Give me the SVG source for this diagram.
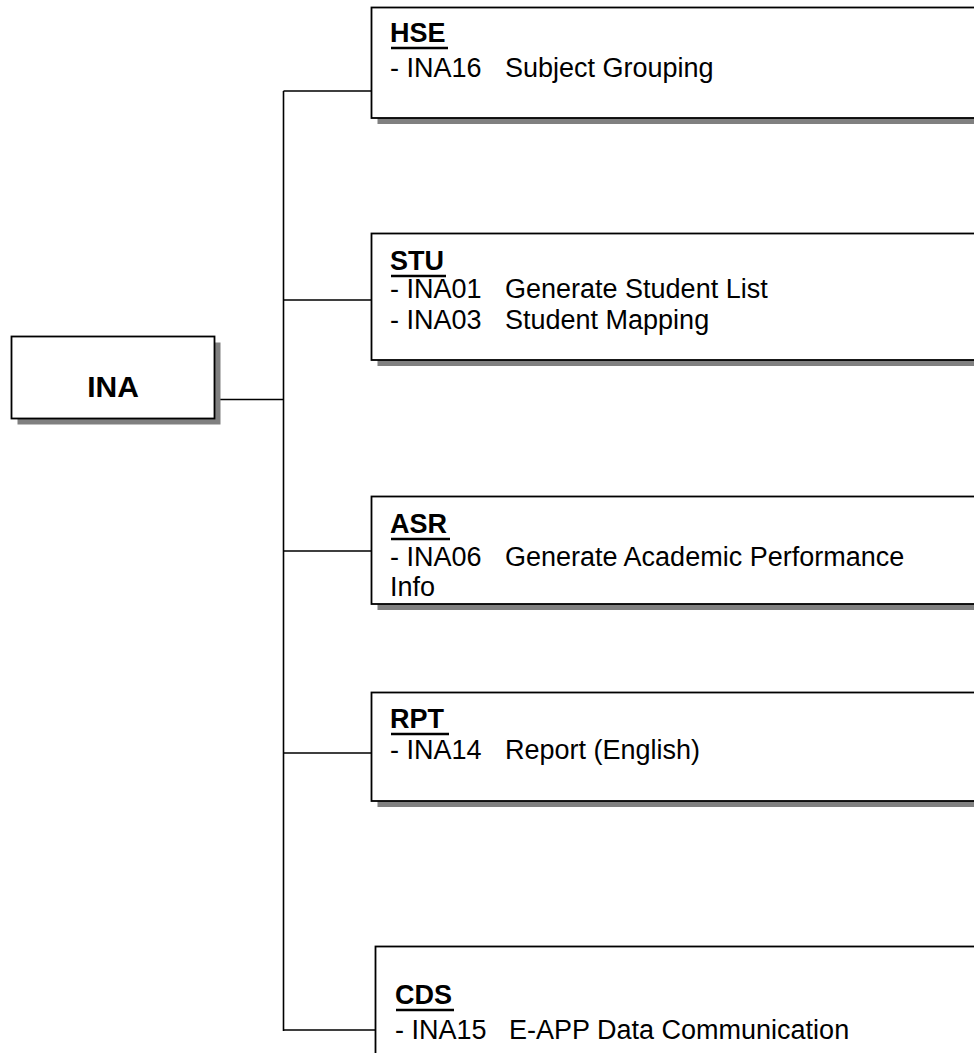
<svg xmlns="http://www.w3.org/2000/svg" width="974" height="1053" viewBox="0 0 974 1053">
<style>
.bg{fill:#ffffff}
.box{fill:#ffffff;stroke:#000000;stroke-width:1.8}
.sh{fill:#808080}
.t{font-family:"Liberation Sans",Arial,sans-serif;font-size:27px;fill:#000000}
.h{font-family:"Liberation Sans",Arial,sans-serif;font-size:27px;font-weight:bold;fill:#000000}
.m{font-family:"Liberation Sans",Arial,sans-serif;font-size:30px;font-weight:bold;fill:#000000}
.ul{stroke:#000000;stroke-width:2.6}
.c{fill:none;stroke:#000000;stroke-width:1.6}
</style>
<rect class="bg" x="0" y="0" width="974" height="1053"/>
<g id="connectors">
<path class="c" d="M214,399.5 H283.5 M283.5,91 V1031 M283.5,91 H372 M283.5,300 H372 M283.5,551 H372 M283.5,753 H372 M283.5,1030 H376"/>
</g>
<g id="node-INA">
<rect class="sh" x="17.5" y="342.5" width="203" height="82"/>
<rect class="box" x="11.5" y="336.5" width="203" height="82"/>
<text class="m" x="113" y="397" text-anchor="middle">INA</text>
</g>
<g id="node-HSE">
<rect class="sh" x="377.5" y="13.5" width="700" height="110.5"/>
<rect class="box" x="371.5" y="7.5" width="700" height="110.5"/>
<text class="h" x="390" y="42">HSE</text>
<line class="ul" x1="391" y1="48" x2="448" y2="48"/>
<text class="t" y="77"><tspan x="390">- INA16 </tspan><tspan x="505">Subject Grouping</tspan></text>
</g>
<g id="node-STU">
<rect class="sh" x="377.5" y="239.5" width="700" height="126.5"/>
<rect class="box" x="371.5" y="233.5" width="700" height="126.5"/>
<text class="h" x="390" y="270">STU</text>
<line class="ul" x1="391" y1="276" x2="446" y2="276"/>
<text class="t" y="298"><tspan x="390">- INA01 </tspan><tspan x="505">Generate Student List</tspan></text>
<text class="t" y="329"><tspan x="390">- INA03 </tspan><tspan x="505">Student Mapping</tspan></text>
</g>
<g id="node-ASR">
<rect class="sh" x="377.5" y="502.5" width="700" height="107.5"/>
<rect class="box" x="371.5" y="496.5" width="700" height="107.5"/>
<text class="h" x="390" y="533">ASR</text>
<line class="ul" x1="391" y1="539" x2="450" y2="539"/>
<text class="t" y="566"><tspan x="390">- INA06 </tspan><tspan x="505">Generate Academic Performance</tspan></text>
<text class="t" x="390" y="596">Info</text>
</g>
<g id="node-RPT">
<rect class="sh" x="377.5" y="698.5" width="700" height="108.5"/>
<rect class="box" x="371.5" y="692.5" width="700" height="108.5"/>
<text class="h" x="390" y="728">RPT</text>
<line class="ul" x1="391" y1="734" x2="449" y2="734"/>
<text class="t" y="759"><tspan x="390">- INA14 </tspan><tspan x="505">Report (English)</tspan></text>
</g>
<g id="node-CDS">
<rect class="box" x="375.5" y="946.5" width="700" height="200"/>
<text class="h" x="395" y="1004">CDS</text>
<line class="ul" x1="396" y1="1010" x2="454" y2="1010"/>
<text class="t" y="1039"><tspan x="395">- INA15 </tspan><tspan x="509">E-APP Data Communication</tspan></text>
</g>
</svg>
